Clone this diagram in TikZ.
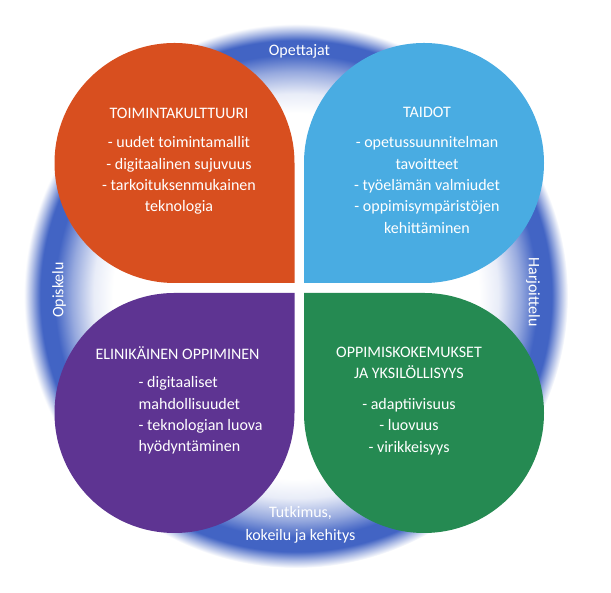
\documentclass[tikz,border=0pt]{standalone}
\usepackage{fontspec}
\setmainfont{Carlito}
\usepackage{tikz}
\usepackage{xcolor}

\definecolor{ringblue}{RGB}{66,100,196}
\definecolor{leaforange}{RGB}{216,79,31}
\definecolor{leafblue}{RGB}{73,172,226}
\definecolor{leafpurple}{RGB}{94,52,146}
\definecolor{leafgreen}{RGB}{37,138,82}

\pgfdeclareradialshading{ringglow}{\pgfpointorigin}{%
  color(0bp)=(white); color(16.8bp)=(white); color(18.6bp)=(ringblue!12);
  color(20.6bp)=(ringblue!55); color(22.2bp)=(ringblue); color(23.5bp)=(ringblue);
  color(24.3bp)=(ringblue!45); color(25bp)=(white); color(50bp)=(white)}

\begin{document}
\begin{tikzpicture}[x=1pt,y=1pt,
    leaftext/.style={text=white,align=center,inner sep=0pt,
      font=\fontsize{16}{21.3}\selectfont},
    ringtext/.style={text=white,align=center,inner sep=0pt,
      font=\fontsize{16}{23}\selectfont}]
  \useasboundingbox (0,0) rectangle (611,593);
  % ring
  \shade[shading=ringglow] (296,297) circle[radius=272];
  % leaves
  \fill[leaforange] (294.5,310) -- (294.5,430) arc[start angle=0,end angle=270,radius=120] -- cycle;
  \fill[leafblue] (304,310) -- (424,310) arc[start angle=270,end angle=540,radius=120] -- cycle;
  \fill[leafpurple] (294.5,300) -- (174.5,300) arc[start angle=90,end angle=360,radius=120] -- cycle;
  \fill[leafgreen] (304,300) -- (304,180) arc[start angle=180,end angle=450,radius=120] -- cycle;
  % ring labels
  \node[ringtext] (opettajat) at (299.5,541.5) {Opettajat};
  \node[ringtext,rotate=90] (opiskelu) at (59,303) {Opiskelu};
  \node[ringtext,rotate=-90] (harjoittelu) at (533,301) {Harjoittelu};
  \node[ringtext] (tutkimus) at (300.5,68) {Tutkimus,\\kokeilu ja kehitys};
  % leaf texts
  \node[leaftext] (kulttuuri) at (179,480) {TOIMINTAKULTTUURI};
  \node[leaftext] (kulttuurilist) at (179,417.5) {- uudet toimintamallit\\- digitaalinen sujuvuus\\- tarkoituksenmukainen\\teknologia};
  \node[leaftext] (taidot) at (427,481) {TAIDOT};
  \node[leaftext] (taidotlist) at (427,408) {- opetussuunnitelman\\tavoitteet\\- työelämän valmiudet\\- oppimisympäristöjen\\kehittäminen};
  \node[leaftext] (elinikainen) at (177.5,240) {ELINIKÄINEN OPPIMINEN};
  \node[leaftext,align=left,anchor=west] (elinikainenlist) at (138.5,177.5) {- digitaaliset\\mahdollisuudet\\- teknologian luova\\hyödyntäminen};
  \node[leaftext] (kokemukset) at (409,230) {OPPIMISKOKEMUKSET\\JA YKSILÖLLISYYS};
  \node[leaftext] (kokemuksetlist) at (409,166.5) {- adaptiivisuus\\- luovuus\\- virikkeisyys};
\end{tikzpicture}
\end{document}
